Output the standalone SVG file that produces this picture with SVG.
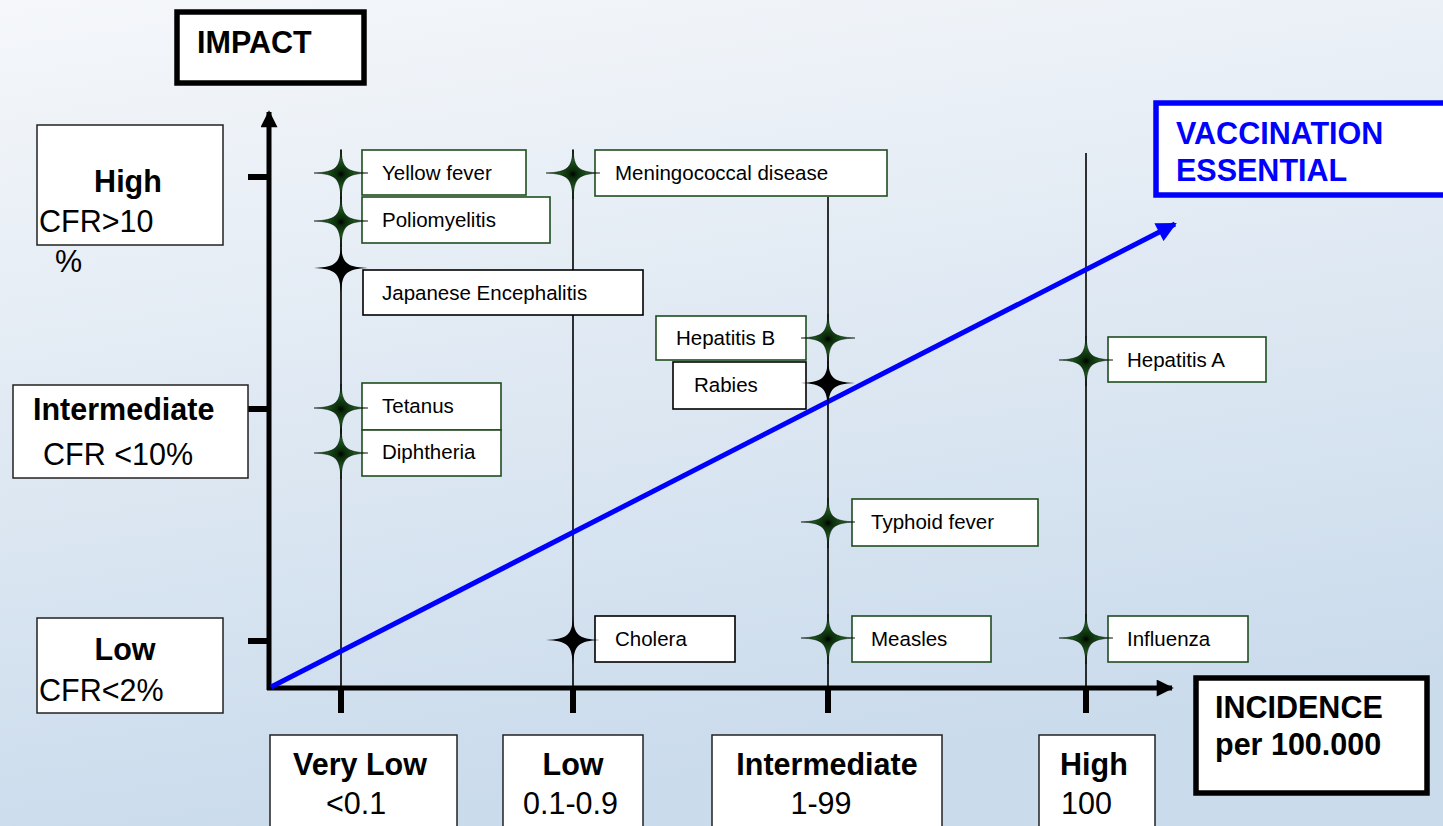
<svg xmlns="http://www.w3.org/2000/svg" width="1443" height="826" viewBox="0 0 1443 826">
<defs>
<linearGradient id="bg" x1="0" y1="0" x2="0.25" y2="1">
<stop offset="0" stop-color="#f5f7fa"/>
<stop offset="1" stop-color="#cadbec"/>
</linearGradient>
<radialGradient id="gstar" cx="0.5" cy="0.5" r="0.5">
<stop offset="0" stop-color="#000"/>
<stop offset="0.15" stop-color="#0a2a0a"/>
<stop offset="0.6" stop-color="#1d5e1d"/>
<stop offset="1" stop-color="#2a7a2a"/>
</radialGradient>
<path id="star" d="M0,-24 C1,-5 5,-1 27,0 C5,1 1,5 0,26 C-1,5 -5,1 -27,0 C-5,-1 -1,-5 0,-24 Z"/>
<marker id="ah" viewBox="0 0 10 10" refX="9" refY="5" markerWidth="3.6" markerHeight="3.4" orient="auto" markerUnits="strokeWidth">
<path d="M0,0 L10,5 L0,10 Z" fill="#000"/>
</marker>
<marker id="ahb" viewBox="0 0 10 10" refX="9" refY="5" markerWidth="4.4" markerHeight="4" orient="auto" markerUnits="strokeWidth">
<path d="M0,0 L10,5 L0,10 Z" fill="#0000ff"/>
</marker>
</defs>
<style>
.t{font-family:"Liberation Sans",Arial,sans-serif;font-size:20.5px;fill:#000}
.b{font-family:"Liberation Sans",Arial,sans-serif;font-size:30.5px;font-weight:bold;fill:#000}
.r{font-family:"Liberation Sans",Arial,sans-serif;font-size:30.5px;fill:#000}
.bl{fill:#0000ff}
.gb{fill:#fff;stroke:#1e4d1e;stroke-width:1.6}
.kb{fill:#fff;stroke:#000;stroke-width:1.6}
.ab{fill:#fff;stroke:#222;stroke-width:1.5}
.hb{fill:#fff;stroke:#000;stroke-width:5.5}
.vl{stroke:#000;stroke-width:1.6;fill:none}
.ax{stroke:#000;stroke-width:5;fill:none}
.tk{stroke:#000;stroke-width:6;fill:none}
.sg{fill:url(#gstar);stroke:#000;stroke-width:0.5}
.sk{fill:#000}
</style>
<rect x="0" y="0" width="1443" height="826" fill="url(#bg)"/>

<g id="connectors">
<line class="vl" x1="341" y1="150" x2="341" y2="688"/>
<line class="vl" x1="573" y1="150" x2="573" y2="688"/>
<line class="vl" x1="828" y1="197" x2="828" y2="688"/>
<line class="vl" x1="1086" y1="153" x2="1086" y2="688"/>
<line class="ax" x1="269" y1="690" x2="269" y2="112" marker-end="url(#ah)"/>
<line class="ax" x1="267" y1="688" x2="1172" y2="688" marker-end="url(#ah)"/>
<line class="tk" x1="248" y1="177" x2="269" y2="177"/>
<line class="tk" x1="248" y1="409" x2="269" y2="409"/>
<line class="tk" x1="248" y1="641" x2="269" y2="641"/>
<line class="tk" x1="341" y1="688" x2="341" y2="713"/>
<line class="tk" x1="573" y1="688" x2="573" y2="713"/>
<line class="tk" x1="828" y1="688" x2="828" y2="713"/>
<line class="tk" x1="1086" y1="688" x2="1086" y2="713"/>
<line x1="271" y1="687" x2="1175" y2="224" stroke="#0000ff" stroke-width="5" marker-end="url(#ahb)"/>
</g>

<g id="axis-impact">
<rect class="hb" x="177" y="12" width="187" height="71"/>
<text class="b" x="197" y="53">IMPACT</text>
</g>
<g id="impact-high">
<rect class="ab" x="37" y="125" width="186" height="120"/>
<text class="b" x="128" y="192" text-anchor="middle">High</text>
<text class="r" x="39" y="232">CFR&gt;10</text>
<text class="r" x="55" y="272">%</text>
</g>
<g id="impact-intermediate">
<rect class="ab" x="13" y="385" width="235" height="93"/>
<text class="b" x="33" y="420">Intermediate</text>
<text class="r" x="43" y="465">CFR &lt;10%</text>
</g>
<g id="impact-low">
<rect class="ab" x="37" y="618" width="186" height="95"/>
<text class="b" x="125" y="660" text-anchor="middle">Low</text>
<text class="r" x="39" y="701">CFR&lt;2%</text>
</g>

<g id="inc-verylow">
<rect class="ab" x="270" y="735" width="187" height="100"/>
<text class="b" x="360" y="775" text-anchor="middle">Very Low</text>
<text class="r" x="326" y="814">&lt;0.1</text>
</g>
<g id="inc-low">
<rect class="ab" x="503" y="735" width="140" height="100"/>
<text class="b" x="573" y="775" text-anchor="middle">Low</text>
<text class="r" x="523" y="814">0.1-0.9</text>
</g>
<g id="inc-intermediate">
<rect class="ab" x="712" y="735" width="230" height="100"/>
<text class="b" x="827" y="775" text-anchor="middle">Intermediate</text>
<text class="r" x="821" y="814" text-anchor="middle">1-99</text>
</g>
<g id="inc-high">
<rect class="ab" x="1039" y="735" width="116" height="100"/>
<text class="b" x="1060" y="775">High</text>
<text class="r" x="1061" y="814">100</text>
</g>

<g id="axis-incidence">
<rect class="hb" x="1196" y="678" width="231" height="115"/>
<text class="b" x="1215" y="718">INCIDENCE</text>
<text class="b" x="1215" y="755">per 100.000</text>
</g>

<g id="vaccination">
<rect x="1156" y="103" width="300" height="92" fill="#fff" stroke="#0000ff" stroke-width="5.5"/>
<text class="b bl" x="1176" y="144" style="fill:#0000ff">VACCINATION</text>
<text class="b bl" x="1176" y="181" style="fill:#0000ff">ESSENTIAL</text>
</g>

<g id="yellow-fever">
<rect class="gb" x="362" y="150" width="164" height="45"/>
<text class="t" x="382" y="180">Yellow fever</text>
<use href="#star" class="sg" x="341" y="173"/>
</g>
<g id="poliomyelitis">
<rect class="gb" x="362" y="197" width="188" height="46"/>
<text class="t" x="382" y="227">Poliomyelitis</text>
<use href="#star" class="sg" x="341" y="221"/>
</g>
<g id="japanese-encephalitis">
<rect class="kb" x="363" y="270" width="280" height="45"/>
<text class="t" x="382" y="300">Japanese Encephalitis</text>
<use href="#star" class="sk" x="341" y="268"/>
</g>
<g id="tetanus">
<rect class="gb" x="362" y="383" width="139" height="47"/>
<text class="t" x="382" y="413">Tetanus</text>
<use href="#star" class="sg" x="341" y="408"/>
</g>
<g id="diphtheria">
<rect class="gb" x="362" y="430" width="139" height="46"/>
<text class="t" x="382" y="459">Diphtheria</text>
<use href="#star" class="sg" x="341" y="453"/>
</g>
<g id="meningococcal">
<rect class="gb" x="595" y="150" width="292" height="46"/>
<text class="t" x="615" y="180">Meningococcal disease</text>
<use href="#star" class="sg" x="573" y="173"/>
</g>
<g id="cholera">
<rect class="kb" x="595" y="616" width="140" height="46"/>
<text class="t" x="615" y="646">Cholera</text>
<use href="#star" class="sk" x="573" y="640"/>
</g>
<g id="hepatitis-b">
<rect class="gb" x="656" y="316" width="150" height="44"/>
<text class="t" x="676" y="345">Hepatitis B</text>
<use href="#star" class="sg" x="828" y="338"/>
</g>
<g id="rabies">
<rect class="kb" x="673" y="362" width="133" height="47"/>
<text class="t" x="694" y="392">Rabies</text>
<use href="#star" class="sk" x="828" y="383"/>
</g>
<g id="typhoid">
<rect class="gb" x="852" y="499" width="186" height="47"/>
<text class="t" x="871" y="529">Typhoid fever</text>
<use href="#star" class="sg" x="828" y="522"/>
</g>
<g id="measles">
<rect class="gb" x="852" y="616" width="139" height="46"/>
<text class="t" x="871" y="646">Measles</text>
<use href="#star" class="sg" x="828" y="638"/>
</g>
<g id="hepatitis-a">
<rect class="gb" x="1108" y="337" width="158" height="45"/>
<text class="t" x="1127" y="367">Hepatitis A</text>
<use href="#star" class="sg" x="1086" y="360"/>
</g>
<g id="influenza">
<rect class="gb" x="1108" y="616" width="140" height="46"/>
<text class="t" x="1127" y="646">Influenza</text>
<use href="#star" class="sg" x="1086" y="638"/>
</g>
</svg>
